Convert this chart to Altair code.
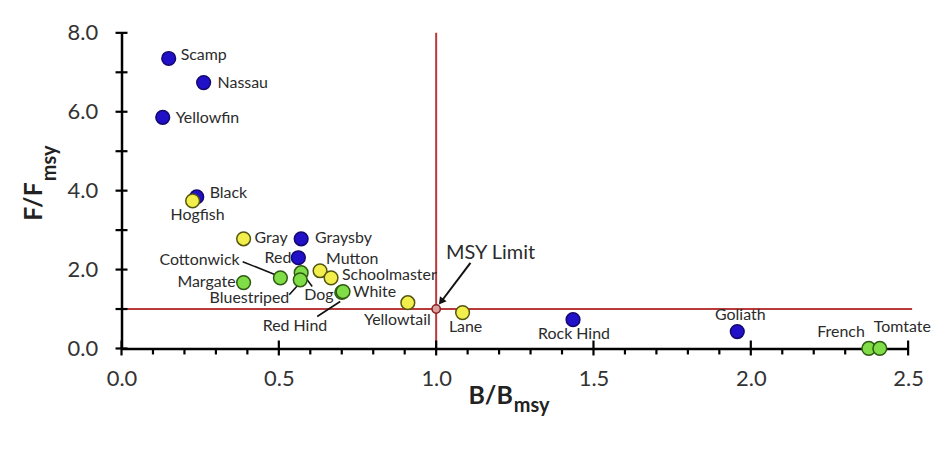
import altair as alt
import pandas as pd

# ---------------- data ----------------
names = ["Scamp", "Nassau", "Yellowfin", "Black", "Hogfish", "Gray", "Graysby", "Red",
         "Cottonwick", "Margate", "Dog", "Bluestriped", "Mutton", "Schoolmaster",
         "Red Hind", "White", "Yellowtail", "Lane", "Rock Hind", "Goliath", "French", "Tomtate"]
b_ratio = [0.150, 0.261, 0.131, 0.239, 0.226, 0.388, 0.571, 0.562,
           0.505, 0.388, 0.571, 0.568, 0.631, 0.666,
           0.700, 0.704, 0.910, 1.084, 1.435, 1.957, 2.375, 2.410]
f_ratio = [7.35, 6.74, 5.86, 3.84, 3.74, 2.78, 2.78, 2.30,
           1.79, 1.67, 1.92, 1.74, 1.97, 1.79,
           1.42, 1.44, 1.16, 0.91, 0.73, 0.43, 0.0, 0.0]
groups = ["blue", "blue", "blue", "blue", "yellow", "yellow", "blue", "blue",
          "green", "green", "green", "green", "yellow", "yellow",
          "green", "green", "yellow", "yellow", "blue", "blue", "green", "green"]

msy_b = [1.0]
msy_f = [1.0]

x_major = [0.0, 0.5, 1.0, 1.5, 2.0, 2.5]
x_minor = [0.1, 0.2, 0.3, 0.4, 0.6, 0.7, 0.8, 0.9, 1.1, 1.2, 1.3, 1.4,
           1.6, 1.7, 1.8, 1.9, 2.1, 2.2, 2.3, 2.4]
y_major = [0.0, 2.0, 4.0, 6.0, 8.0]
y_minor = [1.0, 3.0, 5.0, 7.0]

# leader lines (from label to point), in data units
lead_x1 = [0.385, 0.533, 0.606, 0.622]
lead_y1 = [2.20, 1.36, 1.57, 0.81]
lead_x2 = [0.489, 0.559, 0.581, 0.695]
lead_y2 = [1.87, 1.59, 1.84, 1.19]
arrow_x1 = [1.109]
arrow_y1 = [2.17]
arrow_x2 = [1.018]
arrow_y2 = [1.21]

# label placement: name -> (dx, dy, align)
label_pos = {
    "Scamp": (12, -3, "left"), "Nassau": (14, 0, "left"), "Yellowfin": (13, 1, "left"),
    "Black": (13, -4, "left"), "Hogfish": (5, 14, "center"), "Gray": (11, -1, "left"),
    "Graysby": (14, -1, "left"), "Red": (-7, 0, "right"), "Cottonwick": (-41, -18, "right"),
    "Mutton": (6, -12, "left"), "Schoolmaster": (11, -3, "left"), "Margate": (-8, -1, "right"),
    "Bluestriped": (-11, 18, "right"), "Dog": (3, 22, "left"), "White": (10, 0, "left"),
    "Red Hind": (-47, 34, "center"), "Yellowtail": (23, 17, "right"), "Lane": (3, 15, "center"),
    "Rock Hind": (1, 14, "center"), "Goliath": (3, -17, "center"), "French": (-4, -17, "right"),
    "Tomtate": (-6, -22, "left"),
}

W, H = 790, 317
FONT = "Lato"
TXT = "#2b2b2b"

df = pd.DataFrame({"name": names, "b": b_ratio, "f": f_ratio, "group": groups,
                   "order": list(range(len(names)))})

xs = alt.Scale(domain=[0, 2.5], nice=False, zero=False)
ys = alt.Scale(domain=[0, 8], nice=False, zero=False)

x_axis = alt.Axis(values=x_major, format=".1f", ticks=False, grid=False, labelFlush=False,
                  domainColor="black", domainWidth=2.5, labelFontSize=22,
                  labelPadding=20, labelColor="#333333", labelFont=FONT, title=None)
y_axis = alt.Axis(values=y_major, format=".1f", ticks=False, grid=False, labelFlush=False,
                  domainColor="black", domainWidth=2.5, labelFontSize=22,
                  labelPadding=24, labelColor="#333333", labelFont=FONT, title=None)

base_axes = alt.Chart(pd.DataFrame({"b": [0.0], "f": [0.0]})).mark_point(opacity=0).encode(
    x=alt.X("b:Q", scale=xs, axis=x_axis),
    y=alt.Y("f:Q", scale=ys, axis=y_axis),
)

# custom crossing ticks
xt_major = alt.Chart(pd.DataFrame({"v": x_major})).mark_rule(color="black", strokeWidth=2.2).encode(
    x=alt.X("v:Q", scale=xs), y=alt.value(H - 8), y2=alt.value(H + 7))
xt_minor = alt.Chart(pd.DataFrame({"v": x_minor})).mark_rule(color="black", strokeWidth=2.2).encode(
    x=alt.X("v:Q", scale=xs), y=alt.value(H), y2=alt.value(H + 6))
yt_all = alt.Chart(pd.DataFrame({"v": y_major + y_minor})).mark_rule(color="black", strokeWidth=2.2).encode(
    y=alt.Y("v:Q", scale=ys), x=alt.value(-6), x2=alt.value(6))

# reference lines
vline = alt.Chart(pd.DataFrame({"b": msy_b})).mark_rule(color="#b83a3a", strokeWidth=2).encode(
    x=alt.X("b:Q", scale=xs), y=alt.value(0), y2=alt.value(H))
hline = alt.Chart(pd.DataFrame({"f": msy_f})).mark_rule(color="#b83a3a", strokeWidth=2).encode(
    y=alt.Y("f:Q", scale=ys), x=alt.value(0), x2=alt.value(W + 4))

# leader lines
leads = alt.Chart(pd.DataFrame({"x1": lead_x1, "y1": lead_y1, "x2": lead_x2, "y2": lead_y2})).mark_rule(
    color="#111111", strokeWidth=1.6).encode(
    x=alt.X("x1:Q", scale=xs), y=alt.Y("y1:Q", scale=ys), x2="x2:Q", y2="y2:Q")
arrow = alt.Chart(pd.DataFrame({"x1": arrow_x1, "y1": arrow_y1, "x2": arrow_x2, "y2": arrow_y2})).mark_rule(
    color="#111111", strokeWidth=2).encode(
    x=alt.X("x1:Q", scale=xs), y=alt.Y("y1:Q", scale=ys), x2="x2:Q", y2="y2:Q")
arrow_head = alt.Chart(pd.DataFrame({"x2": arrow_x2, "y2": arrow_y2})).mark_point(
    shape="triangle", filled=True, color="#111111", size=70, angle=217, opacity=1).encode(
    x=alt.X("x2:Q", scale=xs), y=alt.Y("y2:Q", scale=ys))

# points
points = alt.Chart(df).mark_circle(size=190, opacity=1, strokeWidth=1.5).encode(
    x=alt.X("b:Q", scale=xs),
    y=alt.Y("f:Q", scale=ys),
    fill=alt.Fill("group:N", scale=alt.Scale(domain=["blue", "yellow", "green"],
                                             range=["#2010c8", "#f2ee4c", "#80dd48"]), legend=None),
    stroke=alt.Stroke("group:N", scale=alt.Scale(domain=["blue", "yellow", "green"],
                                                 range=["#14086e", "#55550f", "#2e5a12"]), legend=None),
    order=alt.Order("order:Q"),
)

msy_pt = alt.Chart(pd.DataFrame({"b": msy_b, "f": msy_f})).mark_point(
    shape="circle", size=70, filled=True, fill="#d9a0a0", stroke="#8a1f1f", strokeWidth=1.5, opacity=1).encode(
    x=alt.X("b:Q", scale=xs), y=alt.Y("f:Q", scale=ys))

layers = [base_axes, vline, hline, xt_major, xt_minor, yt_all, leads, arrow, arrow_head, points, msy_pt]

for nm, (dx, dy, al) in label_pos.items():
    sub = df[df["name"] == nm]
    layers.append(alt.Chart(sub).mark_text(dx=dx, dy=dy, align=al, baseline="middle",
                                           font=FONT, fontSize=16, color=TXT).encode(
        x=alt.X("b:Q", scale=xs), y=alt.Y("f:Q", scale=ys), text="name:N"))

msy_label = alt.Chart(pd.DataFrame({"b": msy_b, "f": msy_f, "t": ["MSY Limit"]})).mark_text(
    dx=10, dy=-56, align="left", baseline="middle", font=FONT, fontSize=20, color=TXT).encode(
    x=alt.X("b:Q", scale=xs), y=alt.Y("f:Q", scale=ys), text="t:N")
layers.append(msy_label)

# axis titles with subscripts
def title_text(txt, x, y, size, align, angle=0):
    return alt.Chart(pd.DataFrame({"t": [txt]})).mark_text(
        align=align, baseline="alphabetic", font=FONT, fontSize=size, fontWeight="bold",
        color="#222222", angle=angle).encode(x=alt.value(x), y=alt.value(y), text="t:N")

layers += [
    title_text("B/B", 393, 373, 25, "right"),
    title_text("msy", 394, 381, 20, "left"),
    title_text("F/F", -80, 150, 25, "right", 270),
    title_text("msy", -66, 149, 20, "left", 270),
]

chart = alt.layer(*layers).properties(
    width=W, height=H,
    autosize=alt.AutoSizeParams(type="none"),
    padding={"left": 114, "top": 24, "right": 30, "bottom": 100},
    background="white",
).configure_view(stroke=None)

chart.save("out.html", embed_options={"renderer": "svg", "actions": False})
